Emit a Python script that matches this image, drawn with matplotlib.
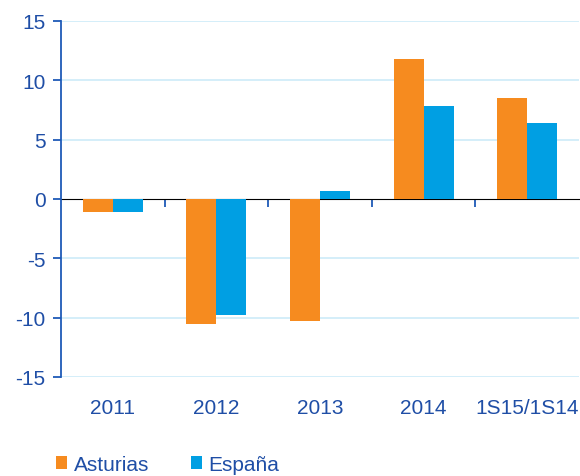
import matplotlib.pyplot as plt
import numpy as np

plt.rcParams['font.family'] = ['Liberation Sans', 'DejaVu Sans']

categories = ['2011', '2012', '2013', '2014', '1S15/1S14']
asturias = [-1.1, -10.5, -10.3, 11.8, 8.5]
espana = [-1.1, -9.8, 0.7, 7.8, 6.4]
yticks = [-15, -10, -5, 0, 5, 10, 15]

orange = '#F68B1F'
blue = '#009FE3'
dark = '#1F5BB8'
text_col = '#1F4EA6'
grid_col = '#CDEBF8'

fig = plt.figure(figsize=(5.8, 4.77), dpi=100)
ax = fig.add_axes([61/580, 1 - 378/477, 518/580, 356/477])

x = np.arange(len(categories))
w = 0.29
ax.bar(x - w/2, asturias, w, color=orange, label='Asturias', zorder=3)
ax.bar(x + w/2, espana, w, color=blue, label='España', zorder=3)

ax.set_xlim(-0.5, len(categories) - 0.5)
ax.set_ylim(-15, 15)
ax.set_yticks(yticks)
ax.set_yticklabels([str(v) for v in yticks])
for v in yticks:
    if v != 0:
        ax.axhline(v, color=grid_col, lw=1.2, zorder=1)

for s in ['top', 'right', 'bottom']:
    ax.spines[s].set_visible(False)
ax.spines['left'].set_color(dark)
ax.spines['left'].set_linewidth(1.3)
ax.tick_params(axis='y', colors=dark, length=6, width=1.3, labelsize=15,
               labelcolor=text_col, pad=5)
ax.set_xticks(x)
ax.set_xticklabels(categories)
ax.tick_params(axis='x', length=0, labelsize=15, labelcolor=text_col, pad=15)

# zero axis with category separators
sec = ax.secondary_xaxis(0.5)
sec.spines['bottom'].set_color(dark)
sec.spines['bottom'].set_linewidth(1.5)
sec.set_xticks(x[:-1] + 0.5)
sec.set_xticklabels([])
sec.tick_params(axis='x', colors=dark, length=6, width=1.3, direction='in')

fig.legend(loc='lower left', bbox_to_anchor=(0.064, -0.035), ncol=2, frameon=False,
           handlelength=0.55, handleheight=0.55, handletextpad=0.3,
           columnspacing=2.0, fontsize=15, labelcolor=text_col)

fig.savefig('out.png', dpi=100)
